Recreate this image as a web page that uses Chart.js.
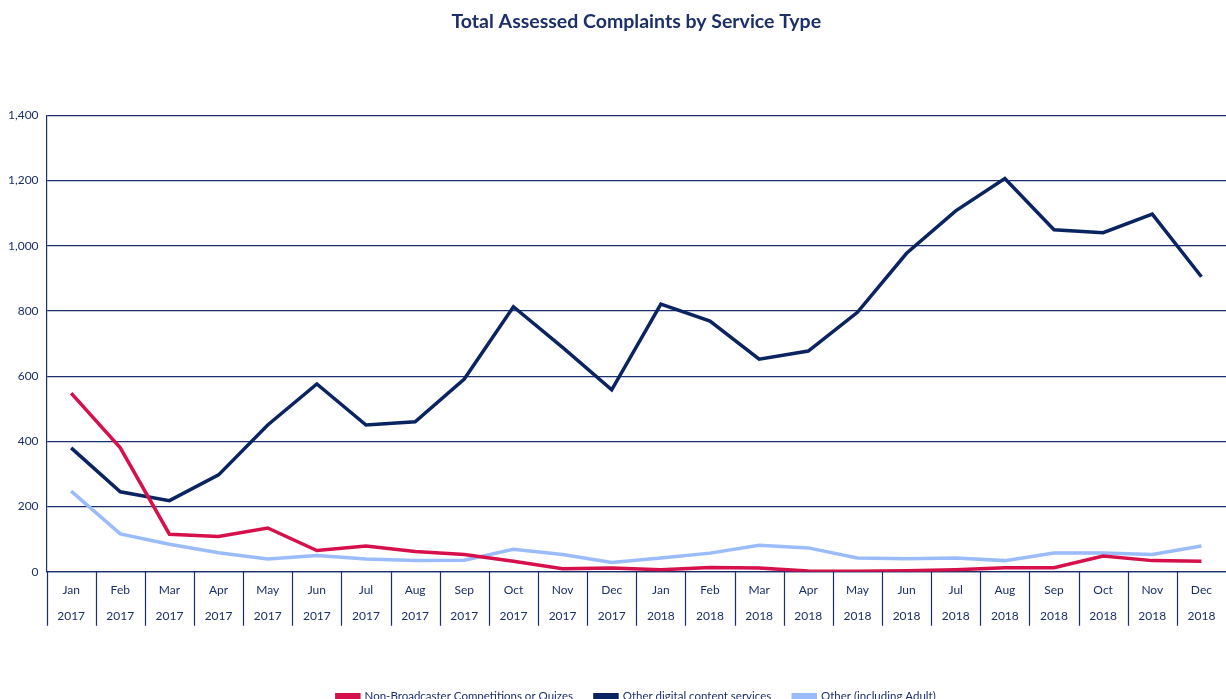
<!DOCTYPE html>
<html>
<head>
<meta charset="utf-8">
<script src="https://cdn.jsdelivr.net/npm/chart.js@4"></script>
<style>
  html, body { margin: 0; padding: 0; background: #fff; overflow: hidden; }
  #wrap { width: 1226px; height: 712px; position: relative; }
</style>
</head>
<body>
<div id="wrap"><canvas id="complaintsChart"></canvas></div>
<script>
const months = ['Jan', 'Feb', 'Mar', 'Apr', 'May', 'Jun', 'Jul', 'Aug', 'Sep', 'Oct', 'Nov', 'Dec',
                'Jan', 'Feb', 'Mar', 'Apr', 'May', 'Jun', 'Jul', 'Aug', 'Sep', 'Oct', 'Nov', 'Dec'];
const years = ['2017', '2017', '2017', '2017', '2017', '2017', '2017', '2017', '2017', '2017', '2017', '2017',
               '2018', '2018', '2018', '2018', '2018', '2018', '2018', '2018', '2018', '2018', '2018', '2018'];
const nonBroadcaster = [548, 380, 115, 108, 134, 65, 79, 62, 53, 32, 9, 11,
                        6, 13, 11, 2, 1, 3, 6, 12, 12, 48, 34, 32];
const otherDigital = [380, 245, 218, 297, 450, 576, 450, 460, 591, 813, 688, 558,
                      821, 769, 652, 677, 796, 977, 1107, 1206, 1049, 1040, 1097, 905];
const otherAdult = [247, 116, 84, 58, 39, 50, 39, 34, 35, 69, 53, 28,
                    42, 57, 81, 73, 42, 40, 42, 34, 57, 57, 53, 79];
const yTicks = [0, 200, 400, 600, 800, 1000, 1200, 1400];

const navy = '#1b2f6b';
const labels = months.map((m, i) => [m, years[i]]);

// vertical dividers between the month/year cells under the x axis
const cellDividers = {
    id: 'cellDividers',
    afterDraw(chart) {
        const x = chart.scales.x;
        const c = chart.ctx;
        const half = (x.getPixelForValue(1) - x.getPixelForValue(0)) / 2;
        c.save();
        c.strokeStyle = navy;
        c.lineWidth = 1.2;
        c.beginPath();
        for (let i = 0; i < labels.length; i++) {
            const px = Math.round(x.getPixelForValue(i) - half) + 0.5;
            c.moveTo(px, x.top);
            c.lineTo(px, x.top + 54);
        }
        c.stroke();
        c.restore();
    }
};

const ctx = document.getElementById('complaintsChart').getContext('2d');
const complaintsChart = new Chart(ctx, {
    type: 'line',
    data: {
        labels: labels,
        datasets: [{
            label: 'Non-Broadcaster Competitions or Quizes',
            data: nonBroadcaster,
            borderColor: '#d5104b',
            backgroundColor: '#d5104b',
            borderWidth: 3.5
        }, {
            label: 'Other digital content services',
            data: otherDigital,
            borderColor: '#0a2462',
            backgroundColor: '#0a2462',
            borderWidth: 3.5
        }, {
            label: 'Other (including Adult)',
            data: otherAdult,
            borderColor: '#9bbcfa',
            backgroundColor: '#9bbcfa',
            borderWidth: 3.5
        }]
    },
    options: {
        responsive: true,
        maintainAspectRatio: false,
        animation: false,
        layout: { padding: { left: 0, right: 0, top: 0, bottom: 0 } },
        elements: {
            point: { radius: 0, hoverRadius: 0 },
            line: { tension: 0 }
        },
        scales: {
            x: {
                offset: true,
                grid: { display: false, drawTicks: false },
                border: { color: navy, width: 1.2 },
                afterFit: (axis) => { axis.height += 34; },
                ticks: {
                    color: navy,
                    padding: 5,
                    maxRotation: 0,
                    autoSkip: false,
                    font: { size: 12, family: 'Lato', lineHeight: 2.2 }
                }
            },
            y: {
                min: 0,
                max: 1400,
                afterBuildTicks: (axis) => { axis.ticks = yTicks.map(v => ({ value: v })); },
                grid: {
                    color: navy,
                    lineWidth: 1.2,
                    drawTicks: false
                },
                border: { color: navy, width: 1.2 },
                ticks: {
                    color: navy,
                    padding: 8,
                    font: { size: 12, family: 'Lato' }
                }
            }
        },
        plugins: {
            title: {
                display: true,
                fullSize: false,
                text: 'Total Assessed Complaints by Service Type',
                color: navy,
                padding: { top: 10, bottom: 82 },
                font: { size: 19.5, family: 'Lato', weight: 'bold' }
            },
            legend: {
                position: 'bottom',
                fullSize: false,
                labels: {
                    color: navy,
                    boxWidth: 22,
                    boxHeight: 3,
                    padding: 22,
                    font: { size: 11.5, family: 'Lato' }
                }
            },
            tooltip: { enabled: false }
        }
    },
    plugins: [cellDividers]
});
</script>
</body>
</html>
